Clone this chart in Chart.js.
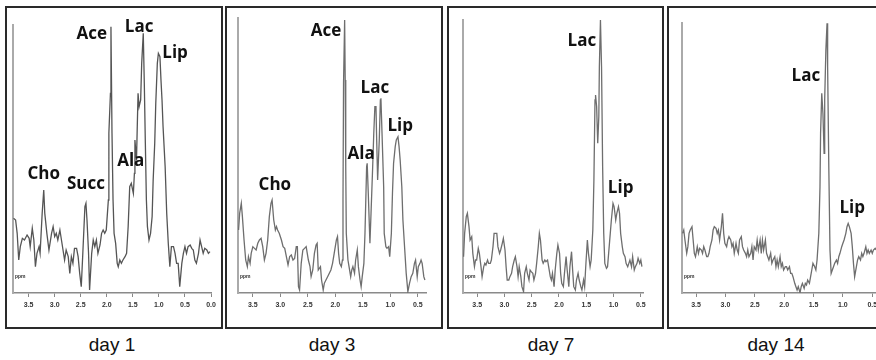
<!DOCTYPE html>
<html><head><meta charset="utf-8">
<script src="https://cdn.jsdelivr.net/npm/chart.js@4.4.0/dist/chart.umd.min.js"></script>
<style>
html,body{margin:0;padding:0;background:#fff;}
body{width:876px;height:360px;overflow:hidden;position:relative;font-family:"Liberation Sans",Arial,sans-serif;}
.box{position:absolute;top:6px;height:323px;border:2px solid #2a2a2a;box-sizing:border-box;}
canvas{position:absolute;top:0;}
.day{position:absolute;top:334px;font-size:19px;color:#111;transform:translateX(-50%);white-space:nowrap;}
</style></head><body>
<div class="box" style="left:5px;width:218px"></div>
<div class="box" style="left:225px;width:218px"></div>
<div class="box" style="left:447px;width:217px"></div>
<div class="box" style="left:667px;width:230px"></div>
<canvas id="c1" width="212" height="330" style="left:8px"></canvas>
<canvas id="c2" width="212" height="330" style="left:228px"></canvas>
<canvas id="c3" width="211" height="330" style="left:450px"></canvas>
<canvas id="c4" width="220" height="330" style="left:670px"></canvas>
<div class="day" style="left:112px">day 1</div>
<div class="day" style="left:332px">day 3</div>
<div class="day" style="left:551px">day 7</div>
<div class="day" style="left:776px">day 14</div>
<script>
// ---- data: [chemical shift (ppm), signal intensity (a.u.)] ----
const spectrumDay1 = [[3.79,22.4],[3.75,21.9],[3.72,17.9],[3.69,9.9],[3.66,13.9],[3.62,16.4],[3.58,15.9],[3.53,17.4],[3.49,16.4],[3.47,13.9],[3.43,19.4],[3.40,15.9],[3.37,7.9],[3.34,11.9],[3.30,13.9],[3.28,11.9],[3.24,23.9],[3.21,30.9],[3.19,23.9],[3.15,17.9],[3.11,12.9],[3.06,17.9],[3.03,19.9],[3.00,16.9],[2.97,17.9],[2.94,15.9],[2.90,18.9],[2.87,15.9],[2.84,12.9],[2.81,9.9],[2.78,12.9],[2.74,10.9],[2.71,5.9],[2.68,10.9],[2.65,8.9],[2.62,13.4],[2.58,13.4],[2.55,10.9],[2.52,5.9],[2.49,1.9],[2.46,11.9],[2.42,25.9],[2.40,26.9],[2.38,21.9],[2.35,11.9],[2.33,0.9],[2.29,11.9],[2.26,15.9],[2.23,13.9],[2.20,15.9],[2.17,11.9],[2.13,14.4],[2.10,17.9],[2.07,18.9],[2.04,17.9],[2.01,18.9],[1.97,27.9],[1.96,47.9],[1.93,59.9],[1.92,79.9],[1.90,47.9],[1.88,27.9],[1.86,17.9],[1.83,14.9],[1.80,8.9],[1.78,7.9],[1.75,9.9],[1.72,8.9],[1.69,9.9],[1.65,10.9],[1.62,11.9],[1.59,19.9],[1.56,31.9],[1.53,32.9],[1.49,29.9],[1.47,35.9],[1.46,45.9],[1.43,39.9],[1.40,59.9],[1.38,55.9],[1.35,57.9],[1.33,68.9],[1.30,77.9],[1.28,62.9],[1.26,44.9],[1.24,27.9],[1.22,19.9],[1.19,15.9],[1.16,17.9],[1.13,22.9],[1.11,33.9],[1.08,44.9],[1.06,56.9],[1.03,68.9],[1.01,71.9],[0.98,70.9],[0.96,63.9],[0.94,57.9],[0.92,49.9],[0.88,37.9],[0.85,23.9],[0.82,14.9],[0.79,7.9],[0.76,13.9],[0.72,13.9],[0.69,11.9],[0.66,8.9],[0.63,8.9],[0.60,1.9],[0.56,8.9],[0.53,11.9],[0.50,13.9],[0.47,11.9],[0.44,13.9],[0.40,14.4],[0.37,13.4],[0.34,12.9],[0.31,9.9],[0.28,8.9],[0.24,11.9],[0.21,15.9],[0.18,13.9],[0.15,11.9],[0.12,13.4],[0.08,12.9],[0.05,11.9],[0.02,12.4]];

const spectrumDay3 = [[3.76,18.9],[3.74,23.9],[3.71,26.9],[3.69,22.9],[3.66,15.9],[3.63,9.9],[3.60,7.9],[3.58,10.9],[3.55,8.9],[3.53,11.9],[3.50,13.9],[3.47,13.4],[3.44,12.9],[3.41,14.9],[3.38,15.9],[3.35,16.4],[3.32,13.9],[3.29,9.9],[3.26,11.9],[3.23,15.9],[3.20,22.9],[3.17,26.9],[3.15,27.9],[3.12,21.9],[3.09,18.9],[3.07,19.9],[3.05,18.9],[3.02,17.9],[2.98,15.9],[2.95,13.9],[2.92,13.4],[2.89,10.9],[2.86,8.4],[2.83,10.9],[2.80,11.4],[2.77,9.9],[2.74,10.4],[2.71,13.9],[2.69,13.9],[2.67,1.9],[2.65,0.9],[2.62,8.9],[2.59,12.9],[2.56,13.4],[2.53,13.9],[2.51,11.9],[2.49,9.9],[2.46,7.9],[2.44,4.9],[2.41,6.9],[2.38,11.9],[2.35,14.4],[2.33,14.9],[2.31,6.9],[2.27,7.9],[2.25,3.9],[2.22,0.9],[2.20,2.9],[2.17,3.9],[2.14,4.9],[2.08,6.9],[2.05,8.9],[2.02,11.9],[1.98,15.9],[1.96,16.9],[1.94,11.9],[1.92,8.9],[1.89,7.9],[1.87,9.9],[1.86,27.9],[1.85,62.9],[1.83,81.9],[1.82,63.9],[1.81,37.9],[1.80,17.9],[1.77,9.9],[1.75,7.9],[1.72,4.9],[1.70,6.9],[1.68,7.9],[1.65,5.9],[1.63,9.9],[1.60,12.9],[1.58,7.9],[1.55,3.9],[1.53,1.9],[1.51,4.9],[1.48,8.9],[1.46,17.9],[1.43,37.9],[1.42,38.9],[1.40,29.9],[1.37,14.9],[1.35,23.9],[1.32,37.9],[1.30,47.9],[1.28,55.9],[1.26,55.9],[1.25,47.9],[1.23,33.9],[1.20,45.9],[1.18,57.9],[1.17,58.4],[1.15,47.9],[1.12,31.9],[1.11,17.9],[1.08,13.9],[1.06,13.4],[1.03,13.9],[1.01,10.9],[0.98,17.9],[0.96,29.9],[0.94,38.9],[0.91,43.9],[0.89,45.9],[0.86,46.9],[0.84,43.9],[0.82,39.9],[0.79,31.9],[0.77,21.9],[0.74,13.9],[0.71,5.9],[0.68,0.4],[0.65,2.9],[0.62,4.9],[0.59,5.9],[0.56,8.9],[0.54,9.9],[0.51,4.9],[0.49,7.9],[0.46,8.9],[0.44,9.9],[0.42,8.9],[0.39,4.9],[0.37,3.9]];

const spectrumDay7 = [[3.75,10.9],[3.73,17.9],[3.70,22.9],[3.68,23.9],[3.65,19.9],[3.63,15.9],[3.60,16.9],[3.58,11.9],[3.55,7.9],[3.53,9.9],[3.51,9.9],[3.48,13.4],[3.46,11.9],[3.43,7.9],[3.41,4.9],[3.38,7.9],[3.36,8.9],[3.34,8.4],[3.31,9.9],[3.29,8.9],[3.26,8.9],[3.24,9.9],[3.21,13.9],[3.19,17.9],[3.16,17.9],[3.14,17.9],[3.12,13.9],[3.09,11.9],[3.07,12.9],[3.04,14.9],[3.02,16.4],[2.99,12.9],[2.97,7.9],[2.95,3.9],[2.92,3.9],[2.90,4.9],[2.87,5.9],[2.85,7.9],[2.82,9.9],[2.80,10.9],[2.77,7.9],[2.75,4.9],[2.73,7.9],[2.70,4.9],[2.68,1.9],[2.65,0.4],[2.63,5.9],[2.60,7.9],[2.58,5.9],[2.55,3.9],[2.53,6.9],[2.51,6.4],[2.48,5.9],[2.46,3.9],[2.43,5.9],[2.41,8.9],[2.38,13.9],[2.36,17.9],[2.34,15.9],[2.31,9.9],[2.29,8.9],[2.26,9.9],[2.24,9.4],[2.21,9.9],[2.19,7.9],[2.16,4.9],[2.14,3.9],[2.12,5.9],[2.09,1.9],[2.07,6.9],[2.04,11.9],[2.02,14.4],[1.99,11.9],[1.97,5.9],[1.95,2.9],[1.92,1.9],[1.90,5.9],[1.87,10.9],[1.85,6.9],[1.82,1.9],[1.80,7.9],[1.77,12.4],[1.75,6.9],[1.73,1.9],[1.70,0.9],[1.68,3.9],[1.65,5.9],[1.63,3.9],[1.60,1.9],[1.58,0.9],[1.55,3.9],[1.53,1.9],[1.51,7.9],[1.48,15.9],[1.46,11.9],[1.43,7.9],[1.41,9.9],[1.38,18.9],[1.36,33.9],[1.34,57.9],[1.33,59.4],[1.31,55.9],[1.29,44.9],[1.27,52.9],[1.26,67.9],[1.24,81.9],[1.22,67.9],[1.20,37.9],[1.18,17.9],[1.16,8.9],[1.13,7.4],[1.11,7.9],[1.09,11.9],[1.06,17.9],[1.04,21.9],[1.01,26.9],[0.99,25.9],[0.96,21.9],[0.94,23.9],[0.91,25.9],[0.89,23.9],[0.87,17.9],[0.84,13.9],[0.82,11.9],[0.79,10.9],[0.77,8.9],[0.74,7.9],[0.72,8.9],[0.70,9.9],[0.67,7.9],[0.65,10.9],[0.62,6.9],[0.60,7.9],[0.57,8.9],[0.55,10.4],[0.52,8.9],[0.50,9.9],[0.48,7.9]];

const spectrumDay14 = [[3.73,17.9],[3.71,18.9],[3.69,15.9],[3.66,11.9],[3.64,13.9],[3.62,17.9],[3.60,18.9],[3.57,19.9],[3.55,15.9],[3.53,11.9],[3.51,10.9],[3.48,13.9],[3.46,11.9],[3.44,13.4],[3.41,12.9],[3.39,11.9],[3.37,13.9],[3.35,12.9],[3.32,10.9],[3.30,10.9],[3.28,11.9],[3.26,13.9],[3.23,15.9],[3.21,18.9],[3.19,19.9],[3.16,19.4],[3.14,17.9],[3.12,18.9],[3.10,15.9],[3.07,19.9],[3.05,23.9],[3.03,17.9],[3.01,14.9],[2.98,13.9],[2.96,15.9],[2.94,16.9],[2.91,15.9],[2.89,13.9],[2.87,14.9],[2.85,11.9],[2.82,14.9],[2.80,12.9],[2.78,11.9],[2.76,15.9],[2.73,16.9],[2.71,13.9],[2.69,12.9],[2.66,11.9],[2.64,10.9],[2.62,12.9],[2.60,10.9],[2.57,11.9],[2.55,13.9],[2.53,9.9],[2.51,13.9],[2.48,12.9],[2.46,15.9],[2.44,12.9],[2.41,15.9],[2.39,11.9],[2.37,15.9],[2.35,12.9],[2.32,15.9],[2.30,11.9],[2.28,10.9],[2.26,9.9],[2.23,11.9],[2.21,8.9],[2.19,9.9],[2.16,10.9],[2.14,7.9],[2.12,9.9],[2.10,7.9],[2.07,10.9],[2.05,7.9],[2.03,8.9],[2.01,6.9],[1.98,7.9],[1.96,7.9],[1.94,6.9],[1.91,7.9],[1.89,5.9],[1.87,5.9],[1.85,4.9],[1.82,2.9],[1.80,1.9],[1.78,0.9],[1.76,1.9],[1.73,0.1],[1.71,1.9],[1.69,2.9],[1.66,1.4],[1.64,2.9],[1.62,2.4],[1.60,3.9],[1.57,2.9],[1.55,4.9],[1.53,6.9],[1.51,8.9],[1.48,7.9],[1.46,6.9],[1.44,9.9],[1.41,17.9],[1.39,31.9],[1.38,47.9],[1.36,59.9],[1.34,53.9],[1.32,41.9],[1.31,57.9],[1.29,72.9],[1.27,80.9],[1.26,67.9],[1.24,37.9],[1.22,12.9],[1.20,5.9],[1.18,6.9],[1.16,7.9],[1.14,8.9],[1.11,9.9],[1.09,8.9],[1.07,10.9],[1.05,11.9],[1.02,13.9],[1.00,14.9],[0.98,15.9],[0.95,17.9],[0.93,19.9],[0.91,20.9],[0.89,19.9],[0.86,17.9],[0.84,13.9],[0.82,8.9],[0.80,4.9],[0.77,7.9],[0.75,9.9],[0.73,10.9],[0.70,9.9],[0.68,11.9],[0.66,10.9],[0.64,11.9],[0.61,13.9],[0.59,11.9],[0.57,12.9],[0.55,11.9],[0.52,12.9],[0.50,11.9],[0.48,12.9],[0.45,13.4],[0.43,12.9]];

// tick labels (ppm) on each panel's axis
const ticksDay1 = [3.5, 3.0, 2.5, 2.0, 1.5, 1.0, 0.5, 0.0];
const ticksDay3 = [3.5, 3.0, 2.5, 2.0, 1.5, 1.0, 0.5];
const ticksDay7 = [3.5, 3.0, 2.5, 2.0, 1.5, 1.0, 0.5];
const ticksDay14 = [3.5, 3.0, 2.5, 2.0, 1.5, 1.0, 0.5];

// metabolite labels and their anchor (ppm, intensity)
const namesDay1 = ['Ace', 'Lac', 'Lip', 'Cho', 'Succ', 'Ala'];
const anchorsDay1 = [[2.29, 77.7], [1.38, 79.8], [0.69, 72.0], [3.21, 35.7], [2.40, 32.7], [1.54, 39.6]];
const namesDay3 = ['Ace', 'Lac', 'Lip', 'Ala', 'Cho'];
const anchorsDay3 = [[2.17, 78.6], [1.28, 61.5], [0.82, 50.1], [1.53, 41.7], [3.10, 32.4]];
const namesDay7 = ['Lac', 'Lip'];
const anchorsDay7 = [[1.58, 75.6], [0.87, 31.5]];
const namesDay14 = ['Lac', 'Lip'];
const anchorsDay14 = [[1.63, 65.1], [0.84, 25.5]];

// ---- drawing ----
const peakLabels = {
  id: 'peakLabels',
  afterDatasetsDraw(chart, args, opts) {
    const {ctx, scales: {x, y}} = chart;
    ctx.save();
    ctx.fillStyle = '#111';
    ctx.font = 'bold 17px "Open Sans", "Noto Sans", sans-serif';
    ctx.textAlign = 'center';
    ctx.textBaseline = 'middle';
    opts.names.forEach((n, i) => {
      ctx.fillText(n, x.getPixelForValue(opts.anchors[i][0]), y.getPixelForValue(opts.anchors[i][1]));
    });
    ctx.font = 'bold 5px "Liberation Sans", sans-serif';
    ctx.textAlign = 'left';
    ctx.fillStyle = '#333';
    ctx.fillText('ppm', chart.chartArea.left + 2, y.getPixelForValue(5));
    ctx.restore();
  }
};

function panel(id, spectrum, ticks, names, anchors, xMin, xMax, yMax, pad, lineColor) {
  new Chart(document.getElementById(id), {
    type: 'line',
    data: { datasets: [{
      data: spectrum.map(p => ({x: p[0], y: p[1]})),
      borderColor: lineColor, borderWidth: 1.3, pointRadius: 0, tension: 0, fill: false
    }]},
    options: {
      responsive: false, animation: false, events: [],
      layout: { padding: pad },
      plugins: { legend: {display: false}, tooltip: {enabled: false},
                 peakLabels: { names, anchors } },
      scales: {
        x: { type: 'linear', reverse: true, min: xMin, max: xMax,
             afterBuildTicks: s => { s.ticks = ticks.map(v => ({value: v})); },
             afterFit: s => { s.height = 20; },
             grid: { display: true, drawOnChartArea: false, drawTicks: true, tickLength: 4, color: '#888', lineWidth: 1 },
             border: { display: true, color: '#8a8a8a', width: 1.5 },
             ticks: { autoSkip: false, maxRotation: 0, padding: 4, color: '#333',
                      font: { size: 7, weight: 'bold', family: '"Liberation Sans", sans-serif' },
                      callback: v => Number(v).toFixed(1) } },
        y: { min: 0, max: yMax,
             afterFit: s => { s.width = 0; },
             grid: { display: false },
             border: { display: true, color: '#aaa', width: 2 },
             ticks: { display: false } }
      }
    },
    plugins: [peakLabels]
  });
}

panel('c1', spectrumDay1, ticksDay1, namesDay1, anchorsDay1, 0.0, 3.80, 80.4, {left: 5, right: 9, top: 25, bottom: 17}, '#555555');
panel('c2', spectrumDay3, ticksDay3, namesDay3, anchorsDay3, 0.35, 3.77, 82.5, {left: 10, right: 14, top: 18, bottom: 17}, '#6e6e6e');
panel('c3', spectrumDay7, ticksDay7, namesDay7, anchorsDay7, 0.46, 3.76, 81.9, {left: 13, right: 18, top: 20, bottom: 17}, '#6e6e6e');
panel('c4', spectrumDay14, ticksDay14, namesDay14, anchorsDay14, 0.30, 3.74, 81.0, {left: 12, right: 6, top: 23, bottom: 17}, '#6e6e6e');
</script>
</body></html>
